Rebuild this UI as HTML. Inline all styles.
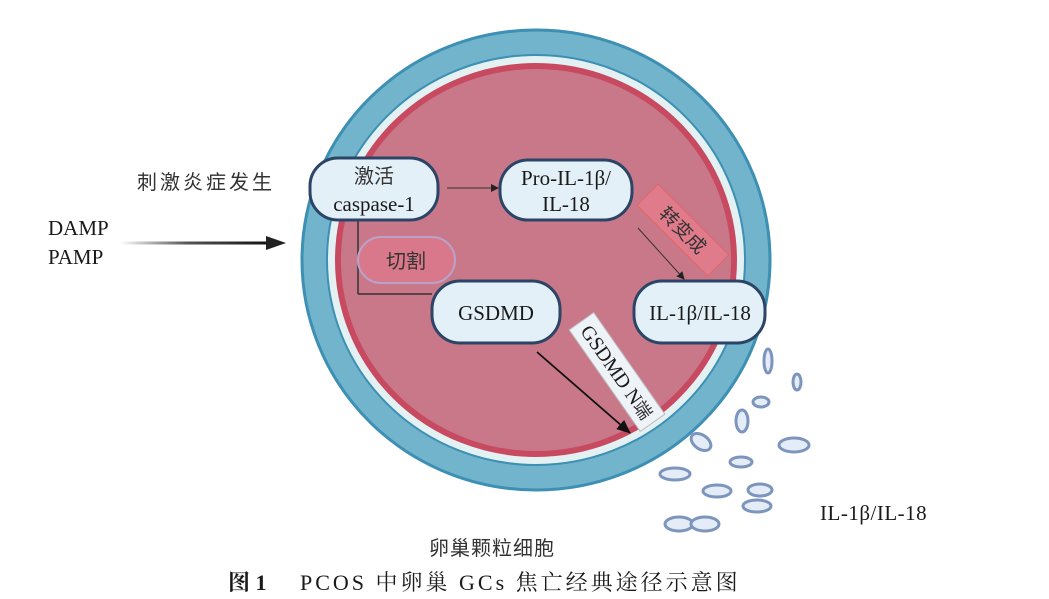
<!DOCTYPE html>
<html><head><meta charset="utf-8"><style>
html,body{margin:0;padding:0;background:#fff;width:1049px;height:599px;overflow:hidden}
svg{display:block}
text{font-family:"Liberation Serif","Noto Serif CJK SC",serif;fill:#1a1a1a}
.cj{font-family:"Liberation Sans","Noto Sans CJK SC",sans-serif;fill:#333}
</style></head><body>
<svg width="1049" height="599" viewBox="0 0 1049 599">
<defs>
<linearGradient id="g" gradientUnits="userSpaceOnUse" x1="120" y1="0" x2="270" y2="0"><stop offset="0" stop-color="#fff"/><stop offset="0.45" stop-color="#555"/><stop offset="1" stop-color="#111"/></linearGradient>
<marker id="a" markerWidth="8" markerHeight="8" refX="7" refY="4" orient="auto" markerUnits="userSpaceOnUse"><path d="M0,0 L8,4 L0,8 Z" fill="#222"/></marker>
<marker id="b" markerWidth="14" markerHeight="12" refX="13" refY="6" orient="auto" markerUnits="userSpaceOnUse"><path d="M0,0 L14,6 L0,12 Z" fill="#111"/></marker>
</defs>
<ellipse cx="536" cy="260" rx="234" ry="230" fill="#71b4cb" stroke="#3d8fb3" stroke-width="3"/>
<ellipse cx="536" cy="260" rx="209" ry="205" fill="#e3f1f3" stroke="#3d8fb3" stroke-width="2"/>
<ellipse cx="536" cy="260" rx="198" ry="194" fill="#c9788a" stroke="#c74a61" stroke-width="6"/>

<text class="cj" x="137" y="189" font-size="20" letter-spacing="3" style="fill:#333">刺激炎症发生</text>
<text x="48" y="235" font-size="21">DAMP</text>
<text x="48" y="264" font-size="21">PAMP</text>
<line x1="120" y1="243" x2="270" y2="243" stroke="url(#g)" stroke-width="3"/>
<path d="M266,236 L286,243 L266,250 Z" fill="#222"/>

<line x1="358" y1="220" x2="358" y2="294" stroke="#333" stroke-width="1.5"/>
<line x1="358" y1="294" x2="432" y2="294" stroke="#333" stroke-width="1.5"/>

<rect x="310" y="158" width="128" height="62" rx="28" fill="#e3f0f8" stroke="#2c4566" stroke-width="3"/>
<text class="cj" x="374" y="183" font-size="20" text-anchor="middle">激活</text>
<text x="374" y="211" font-size="21" text-anchor="middle">caspase-1</text>

<line x1="447" y1="188" x2="498" y2="188" stroke="#333" stroke-width="1" marker-end="url(#a)"/>

<rect x="500" y="160" width="132" height="60" rx="28" fill="#e3f0f8" stroke="#2c4566" stroke-width="3"/>
<text x="566" y="185" font-size="21" text-anchor="middle">Pro-IL-1β/</text>
<text x="566" y="211" font-size="21" text-anchor="middle">IL-18</text>

<rect x="358" y="237" width="97" height="46" rx="23" fill="#d9788a" stroke="#b9a3c9" stroke-width="2"/>
<text class="cj" x="406" y="268" font-size="20" text-anchor="middle">切割</text>

<g transform="translate(683,230) rotate(45)">
<rect x="-50" y="-15" width="100" height="30" fill="#e07b8c" stroke="#d66"/>
<text class="cj" x="0" y="7" font-size="19" text-anchor="middle">转变成</text>
</g>
<line x1="638" y1="228" x2="684" y2="279" stroke="#333" stroke-width="1" marker-end="url(#a)"/>

<rect x="432" y="281" width="128" height="62" rx="28" fill="#e3f0f8" stroke="#2c4566" stroke-width="3"/>
<text x="496" y="320" font-size="21" text-anchor="middle">GSDMD</text>

<rect x="634" y="281" width="131" height="62" rx="28" fill="#e3f0f8" stroke="#2c4566" stroke-width="3"/>
<text x="700" y="320" font-size="21" text-anchor="middle">IL-1β/IL-18</text>

<line x1="537" y1="352" x2="630" y2="433" stroke="#111" stroke-width="1.8" marker-end="url(#b)"/>

<g transform="translate(617,372) rotate(55)">
<rect x="-62" y="-15" width="124" height="30" fill="#eef3f8" stroke="#bbb"/>
<text x="0" y="7" font-size="20" text-anchor="middle">GSDMD N<tspan class="cj" font-size="18">端</tspan></text>
</g>

<g fill="#e4edf7" stroke="#7d95bd" stroke-width="3">
<ellipse cx="768" cy="361" rx="4" ry="12"/>
<ellipse cx="797" cy="382" rx="4" ry="8"/>
<ellipse cx="761" cy="402" rx="8" ry="5"/>
<ellipse cx="742" cy="421" rx="6" ry="11"/>
<ellipse cx="701" cy="442" rx="11" ry="7" transform="rotate(35 701 442)"/>
<ellipse cx="794" cy="445" rx="15" ry="7"/>
<ellipse cx="741" cy="462" rx="11" ry="5"/>
<ellipse cx="675" cy="474" rx="15" ry="6"/>
<ellipse cx="717" cy="491" rx="14" ry="6"/>
<ellipse cx="760" cy="490" rx="12" ry="6"/>
<ellipse cx="757" cy="506" rx="14" ry="6"/>
<ellipse cx="679" cy="524" rx="14" ry="7"/>
<ellipse cx="705" cy="524" rx="14" ry="7"/>
</g>
<text x="820" y="520" font-size="21" letter-spacing="0.5">IL-1β/IL-18</text>

<text class="cj" x="492" y="555" font-size="20" letter-spacing="1" text-anchor="middle">卵巢颗粒细胞</text>
<text x="228" y="590" font-size="22" style="font-weight:bold">图 1</text>
<text x="300" y="590" font-size="22" letter-spacing="3">PCOS 中卵巢 GCs 焦亡经典途径示意图</text>
</svg>
</body></html>
